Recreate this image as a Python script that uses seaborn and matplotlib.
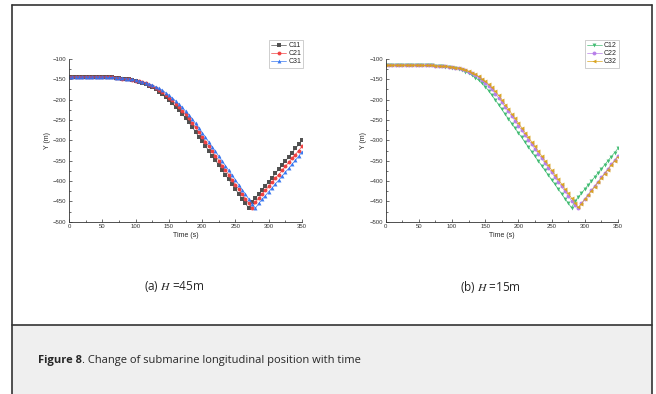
import numpy as np
import pandas as pd
import matplotlib.pyplot as plt
import seaborn as sns
from matplotlib.patches import Rectangle
from matplotlib.lines import Line2D

# Time samples (s), one marker every 5 s
time_s = np.arange(0, 355, 5)

# Panel (a): H = 45 m
c11 = [-144] * 11 + [
    -144, -145, -145, -146, -147, -148, -149, -150, -152, -154, -156, -159, -162, -166, -170,
    -175, -181, -187, -194, -201, -209, -218, -226, -235, -245, -256, -267, -279, -291, -302,
    -314, -326, -338, -349, -361, -373, -385, -396, -408, -420, -432, -443, -455, -467,
    -452, -442, -432, -422, -412, -402, -392, -381, -371, -361, -351, -341, -330, -320, -310, -300]
c21 = [-144] * 11 + [
    -144, -145, -145, -146, -147, -148, -149, -150, -151, -153, -155, -157, -160, -163, -167,
    -171, -176, -182, -188, -195, -202, -210, -218, -227, -236, -246, -257, -268, -280, -291,
    -303, -315, -327, -338, -350, -362, -373, -385, -397, -409, -420, -432, -444, -455, -467,
    -452, -442, -432, -423, -413, -403, -393, -384, -374, -364, -354, -344, -335, -325, -315]
c31 = [-144] * 11 + [
    -144, -145, -145, -146, -146, -147, -148, -149, -150, -152, -154, -156, -158, -161, -164,
    -168, -172, -177, -183, -189, -196, -203, -211, -219, -228, -237, -247, -258, -269, -281,
    -292, -304, -316, -327, -339, -351, -362, -374, -386, -397, -409, -421, -432, -444, -456, -467,
    -455, -445, -436, -426, -417, -407, -398, -388, -378, -369, -359, -349, -339, -328]

# Panel (b): H = 15 m
c12 = [-115] * 11 + [
    -115, -116, -116, -116, -117, -117, -118, -119, -120, -121, -123, -125, -128, -131, -135,
    -140, -146, -152, -160, -168, -178, -189, -200, -212, -224, -236, -247, -259, -270, -282,
    -293, -305, -316, -328, -339, -351, -362, -374, -385, -397, -408, -420, -431, -443, -454, -466,
    -450, -440, -430, -420, -410, -400, -390, -380, -370, -360, -350, -340, -330, -320]
c22 = [-115] * 11 + [
    -115, -116, -116, -116, -117, -117, -118, -118, -119, -120, -121, -123, -125, -128, -131,
    -135, -140, -145, -151, -158, -166, -175, -185, -195, -206, -218, -229, -241, -252, -264,
    -275, -287, -298, -310, -321, -333, -344, -356, -367, -379, -390, -402, -413, -425, -436,
    -448, -458, -467,
    -455, -444, -434, -423, -412, -402, -391, -381, -370, -359, -349, -338]
c32 = [-115] * 11 + [
    -115, -116, -116, -116, -117, -117, -118, -118, -119, -120, -121, -122, -124, -127, -130,
    -134, -138, -143, -149, -155, -162, -170, -179, -189, -200, -212, -223, -235, -246, -258,
    -269, -281, -292, -304, -315, -327, -338, -350, -361, -373, -384, -396, -407, -419, -430,
    -442, -453, -465,
    -456, -445, -435, -424, -414, -403, -393, -382, -372, -361, -351, -340]

panels = [
    {"series": [("C11", c11, "#4a4a4a", "s"), ("C21", c21, "#f03a3a", "o"), ("C31", c31, "#2f72f0", "^")],
     "pos": [0.1052, 0.4373, 0.3552, 0.413], "sub": "(a) $H$ =45m", "subx": 0.265},
    {"series": [("C12", c12, "#3cba6f", "v"), ("C22", c22, "#b57be8", "o"), ("C32", c32, "#d9a21a", "<")],
     "pos": [0.588, 0.4373, 0.354, 0.413], "sub": "(b) $H$ =15m", "subx": 0.747},
]

sns.set_style("ticks")
plt.rcParams['font.family'] = ['Liberation Sans', 'DejaVu Sans']
plt.rcParams['mathtext.fontset'] = 'stix'

fig = plt.figure(figsize=(6.56, 3.94), dpi=100)

# Page frame and grey caption box
X0, X1 = 12 / 656, 652 / 656
YTOP, YSEP = 1 - 5 / 394, 1 - 325 / 394
fig.add_artist(Rectangle((X0, 0), X1 - X0, YSEP, transform=fig.transFigure,
                         facecolor="#efefef", edgecolor="none", zorder=0))
for xs, ys in [([X0, X0], [0, YTOP]), ([X1, X1], [0, YTOP]), ([X0, X1], [YTOP, YTOP]), ([X0, X1], [YSEP, YSEP])]:
    fig.add_artist(Line2D(xs, ys, transform=fig.transFigure, color="#333333", lw=1.2))

for p in panels:
    ax = fig.add_axes(p["pos"])
    for name, vals, color, mk in p["series"]:
        df = pd.DataFrame({"Time (s)": time_s, "Y (m)": vals})
        sns.lineplot(data=df, x="Time (s)", y="Y (m)", ax=ax, color=color, marker=mk,
                     markersize=2.8, markeredgewidth=0, linewidth=0.5, alpha=0.95, label=name)
    ax.set_xlim(0, 350)
    ax.set_ylim(-500, -100)
    ax.set_xticks(range(0, 351, 50))
    ax.set_yticks(range(-500, -99, 50))
    ax.set_xticks(range(0, 351, 25), minor=True)
    ax.set_yticks(range(-500, -99, 25), minor=True)
    ax.tick_params(which="both", direction="in", labelsize=4.3, colors="#333333", width=0.5)
    ax.tick_params(which="major", length=2.2, pad=2)
    ax.tick_params(which="minor", length=1.2)
    sns.despine(ax=ax)
    for s in ("left", "bottom"):
        ax.spines[s].set_linewidth(0.6)
        ax.spines[s].set_color("#333333")
    ax.set_xlabel("Time (s)", fontsize=5, labelpad=1.5)
    ax.set_ylabel("Y (m)", fontsize=5, labelpad=1.5)
    leg = ax.legend(loc="upper right", bbox_to_anchor=(1.005, 1.115), fontsize=5, frameon=True,
                    fancybox=False, handlelength=2.2, borderpad=0.3, labelspacing=0.15,
                    handletextpad=0.3, borderaxespad=0)
    leg.get_frame().set_edgecolor("#aaaaaa")
    leg.get_frame().set_linewidth(0.5)
    fig.text(p["subx"], 1 - 287 / 394, p["sub"], ha="center", va="center", fontsize=8.5,
             family=["Open Sans", "DejaVu Sans"])

# Caption: bold "Figure 8" followed by regular text
cap = fig.text(38 / 656, 1 - 361 / 394, "Figure 8", ha="left", va="center", fontsize=8,
               weight="bold", family=["Open Sans", "DejaVu Sans"])
fig.canvas.draw()
bb = cap.get_window_extent()
fig.text(bb.x1 / 656, 1 - 361 / 394, ". Change of submarine longitudinal position with time", ha="left",
         va="center", fontsize=8, family=["Open Sans", "DejaVu Sans"])

fig.savefig("out.png", dpi=100)
